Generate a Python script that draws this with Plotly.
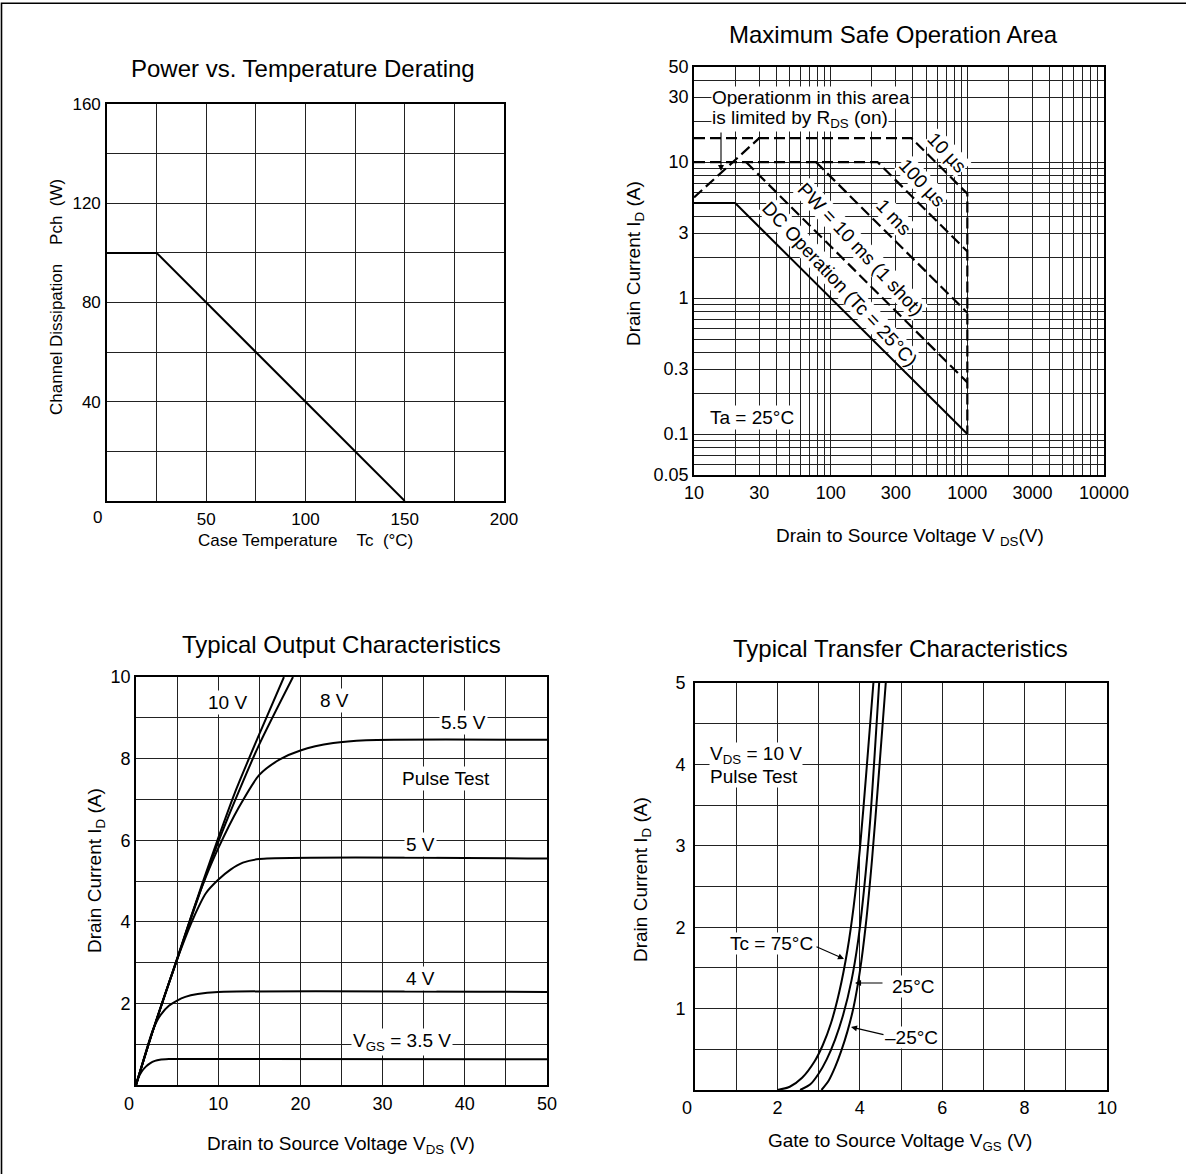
import plotly.graph_objects as go

W, H = 1186, 1174
FONT = "Arial, 'Liberation Sans', Helvetica, sans-serif"
GRID = "#222222"


def px(x):
    return x / W


def py(y):
    return 1 - y / H


# ---------------- Panel 1: Power vs. Temperature Derating ----------------
tc_deg = [0, 25, 150]
pch_w = [100, 100, 0]
p1_x_ticks = [0, 25, 50, 75, 100, 125, 150, 175, 200]
p1_x_labels = ["", "", "50", "", "100", "", "150", "", "200"]
p1_y_ticks = [0, 20, 40, 60, 80, 100, 120, 140, 160]
p1_y_labels = ["", "", "40", "", "80", "", "120", "", "160"]

# ---------------- Panel 2: Maximum Safe Operation Area ----------------
dc_vds = [10, 20, 1000]
dc_id = [5, 5, 0.1]
pw10ms_vds = [24, 1000]
pw10ms_id = [10, 0.24]
pw1ms_vds = [78, 1000]
pw1ms_id = [10, 0.78]
pw100us_vds = [10, 220, 1000]
pw100us_id = [10, 10, 2.2]
pw10us_vds = [10, 390, 1000, 1000]
pw10us_id = [15, 15, 5.85, 0.1]
rds_vds = [10, 30]
rds_id = [5.5, 15]
soa_x_labeled = [10, 30, 100, 300, 1000, 3000, 10000]
soa_y_labeled = [0.05, 0.1, 0.3, 1, 3, 10, 30, 50]
soa_y_label_text = ["0.05", "0.1", "0.3", "1", "3", "10", "30", "50"]

# ---------------- Panel 3: Typical Output Characteristics ----------------
out_v10_vds = [0, 2, 5, 8, 10, 12, 15, 18.0]
out_v10_id = [0, 1.3, 3.1, 4.9, 6.05, 7.15, 8.6, 10]
out_v8_vds = [0, 2, 5, 8, 10, 12, 15, 19.1]
out_v8_id = [0, 1.3, 3.08, 4.85, 5.95, 6.95, 8.35, 10]
out_v55_vds = [0, 2, 5, 7, 8.5, 10, 12.5, 15, 17.5, 20, 24, 28, 50]
out_v55_id = [0, 1.3, 3.08, 4.3, 5.1, 5.8, 6.8, 7.6, 7.98, 8.2, 8.38, 8.45, 8.46]
out_v5_vds = [0, 2, 4, 5.5, 7, 8.5, 10, 11.5, 13, 15, 50]
out_v5_id = [0, 1.3, 2.5, 3.35, 4.1, 4.7, 5.03, 5.28, 5.45, 5.54, 5.55]
out_v4_vds = [0, 1, 2, 2.5, 3, 4, 5, 6, 7.5, 10, 50]
out_v4_id = [0, 0.68, 1.32, 1.55, 1.72, 1.94, 2.07, 2.16, 2.23, 2.28, 2.28]
out_v35_vds = [0, 0.3, 0.7, 1.2, 1.7, 2.3, 2.9, 4, 5, 50]
out_v35_id = [0, 0.18, 0.33, 0.45, 0.53, 0.59, 0.62, 0.635, 0.64, 0.63]
p3_x_ticks = [0, 5, 10, 15, 20, 25, 30, 35, 40, 45, 50]
p3_x_labels = ["", "", "10", "", "20", "", "30", "", "40", "", "50"]
p3_y_ticks = [0, 1, 2, 3, 4, 5, 6, 7, 8, 9, 10]
p3_y_labels = ["", "", "2", "", "4", "", "6", "", "8", "", "10"]

# ---------------- Panel 4: Typical Transfer Characteristics ----------------
tr_75_vgs = [2.0, 2.3, 2.6, 2.9, 3.1, 3.3, 3.5, 3.7, 3.85, 4.0, 4.15, 4.33]
tr_75_id = [0, 0.04, 0.15, 0.35, 0.55, 0.82, 1.2, 1.72, 2.25, 2.95, 3.85, 5.0]
tr_25_vgs = [2.55, 2.8, 3.0, 3.2, 3.4, 3.6, 3.8, 3.95, 4.1, 4.25, 4.47]
tr_25_id = [0, 0.07, 0.2, 0.38, 0.62, 0.93, 1.35, 1.8, 2.45, 3.3, 5.0]
tr_m25_vgs = [3.07, 3.25, 3.4, 3.55, 3.7, 3.85, 4.0, 4.15, 4.3, 4.45, 4.63]
tr_m25_id = [0, 0.12, 0.28, 0.48, 0.72, 1.02, 1.45, 2.05, 2.85, 3.8, 5.0]
p4_x_ticks = [0, 1, 2, 3, 4, 5, 6, 7, 8, 9, 10]
p4_x_labels = ["", "", "2", "", "4", "", "6", "", "8", "", "10"]
p4_y_ticks = [0, 0.5, 1, 1.5, 2, 2.5, 3, 3.5, 4, 4.5, 5]
p4_y_labels = ["", "", "1", "", "2", "", "3", "", "4", "", "5"]

# log grid positions for the SOA chart
soa_x_ticks = [m * 10 ** e for e in (1, 2, 3) for m in range(1, 10)] + [10000]
soa_x_labels = [str(v) if v in soa_x_labeled else "" for v in soa_x_ticks]
soa_y_ticks = ([round(m * 0.01, 2) for m in range(5, 10)] + [round(m * 0.1, 1) for m in range(1, 10)]
               + list(range(1, 10)) + [10, 20, 30, 40, 50])
soa_y_labels = []
for v in soa_y_ticks:
    lab = ""
    for lv, lt in zip(soa_y_labeled, soa_y_label_text):
        if abs(v - lv) < 1e-9:
            lab = lt
    soa_y_labels.append(lab)


def axis(domain, tickvals, ticktext, anchor, tickfont=18, ticklen=5, **kw):
    d = dict(domain=domain, tickmode="array", tickvals=tickvals, ticktext=ticktext,
             anchor=anchor, showgrid=True, gridcolor=GRID, gridwidth=1,
             showline=True, mirror=True, linecolor="black", linewidth=1.6,
             zeroline=False, ticks="outside" if ticklen > 0 else "",
             tickcolor="rgba(0,0,0,0)", ticklen=max(ticklen, 0), automargin=False,
             tickfont=dict(size=tickfont, color="black", family=FONT), fixedrange=True)
    d.update(kw)
    return d


fig = go.Figure()

solid = dict(color="black", width=2)
dashed = dict(color="black", width=2.2, dash="11px,5px")

# Panel 1
fig.add_trace(go.Scatter(x=tc_deg, y=pch_w, mode="lines", line=solid, xaxis="x", yaxis="y"))

# Panel 2
fig.add_trace(go.Scatter(x=dc_vds, y=dc_id, mode="lines", line=solid, xaxis="x2", yaxis="y2"))
for xs, ys in [(pw10ms_vds, pw10ms_id), (pw1ms_vds, pw1ms_id), (pw100us_vds, pw100us_id),
               (pw10us_vds, pw10us_id), (rds_vds, rds_id)]:
    fig.add_trace(go.Scatter(x=xs, y=ys, mode="lines", line=dashed, xaxis="x2", yaxis="y2"))

# Panel 3
for xs, ys in [(out_v10_vds, out_v10_id), (out_v8_vds, out_v8_id), (out_v55_vds, out_v55_id),
               (out_v5_vds, out_v5_id), (out_v4_vds, out_v4_id), (out_v35_vds, out_v35_id)]:
    fig.add_trace(go.Scatter(x=xs, y=ys, mode="lines", xaxis="x3", yaxis="y3",
                             line=dict(color="black", width=2, shape="spline", smoothing=0.7)))

# Panel 4
for xs, ys in [(tr_75_vgs, tr_75_id), (tr_25_vgs, tr_25_id), (tr_m25_vgs, tr_m25_id)]:
    fig.add_trace(go.Scatter(x=xs, y=ys, mode="lines", xaxis="x4", yaxis="y4",
                             line=dict(color="black", width=2, shape="spline", smoothing=0.8)))

ann = []


def text(t, x, y, size=19, angle=0, bg=None, xanchor="center", align="center", pad=1):
    a = dict(text=t, x=px(x), y=py(y), xref="paper", yref="paper", showarrow=False,
             font=dict(size=size, color="black", family=FONT), textangle=angle,
             xanchor=xanchor, yanchor="middle", align=align, borderpad=pad)
    if bg:
        a["bgcolor"] = bg
    ann.append(a)


def arrow(tipx, tipy, tailx, taily):
    ann.append(dict(text="", x=px(tipx), y=py(tipy), xref="paper", yref="paper",
                    showarrow=True, ax=tailx - tipx, ay=taily - tipy, arrowhead=2,
                    arrowsize=1.1, arrowwidth=1.1, arrowcolor="black"))


# titles
text("Power vs. Temperature Derating", 303, 69, size=24)
text("Maximum Safe Operation Area", 893, 34, size=24)
text("Typical Output Characteristics", 341, 644, size=24)
text("Typical Transfer Characteristics", 900, 648, size=24)

NB = "\u00a0"
# axis titles
text(f"Channel Dissipation{NB*4}Pch{NB*2}(W)", 57, 297, size=17, angle=-90)
text(f"Case Temperature{NB*4}Tc{NB*2}(°C)", 305, 540, size=17)
text("Drain Current I<sub>D</sub> (A)", 635, 264, size=19, angle=-90)
text(f"Drain to Source Voltage V{NB}<sub>DS</sub>(V)", 910, 537, size=19)
text("Drain Current I<sub>D</sub> (A)", 96, 871, size=19, angle=-90)
text(f"Drain to Source Voltage V<sub>DS</sub>{NB}(V)", 341, 1145, size=19)
text("Drain Current I<sub>D</sub> (A)", 642, 880, size=19, angle=-90)
text(f"Gate to Source Voltage V<sub>GS</sub>{NB}(V)", 900, 1142, size=19)

# origin zeros
text("0", 97, 517, size=17)
text("0", 129, 1104, size=18)
text("0", 687, 1108, size=18)

# SOA labels
text("Operationm in this area", 711, 98, bg="white", xanchor="left", pad=0)
text(f"is limited by R<sub>DS</sub>{NB}(on)", 711, 119, bg="white", xanchor="left", pad=0)
arrow(721, 171, 721, 131)
text("10 µs", 947, 152, angle=47, bg="white", pad=0)
text("100 µs", 922, 182, angle=47, bg="white", pad=0)
text("1 ms", 893, 217, angle=47, bg="white", pad=0)
text("PW = 10 ms (1 shot)", 861, 249, angle=47, bg="white", pad=0)
text("DC Operation (Tc = 25°C)", 839, 284, angle=47, bg="white", pad=0)
text("Ta = 25°C", 752, 418, bg="white")

# Output labels
text("10 V", 228, 702, bg="white")
text("8 V", 334, 700, bg="white")
text("5.5 V", 463, 722, bg="white")
text("Pulse Test", 446, 778, bg="white")
text("5 V", 420, 844, bg="white")
text("4 V", 420, 978, bg="white")
text("V<sub>GS</sub> = 3.5 V", 402, 1042, bg="white")

# Transfer labels
text("V<sub>DS</sub> = 10 V", 709, 755, bg="white", xanchor="left", pad=0)
text("Pulse Test", 709, 776, bg="white", xanchor="left", pad=0)
text("Tc = 75°C", 771, 943, bg="white", pad=0)
arrow(844, 959, 815, 946)
text("25°C", 913, 986, bg="white", pad=0)
arrow(855, 983, 884, 983)
text("–25°C", 912, 1037, bg="white", pad=0)
arrow(851, 1027, 885, 1035)

shapes = [dict(type="rect", xref="paper", yref="paper", x0=px(1.5), x1=1.05, y0=-0.05, y1=py(3.3),
               line=dict(color="black", width=1.6), fillcolor="rgba(0,0,0,0)", layer="below")]

fig.update_layout(
    template="none",
    width=W, height=H, margin=dict(l=0, r=0, t=0, b=0, pad=0), autosize=False,
    paper_bgcolor="white", plot_bgcolor="white", showlegend=False,
    font=dict(family=FONT, color="black"),
    xaxis=axis([px(107), px(504)], p1_x_ticks, p1_x_labels, "y", tickfont=17, ticklen=2, range=[0, 200]),
    yaxis=axis([py(501), py(104)], p1_y_ticks, p1_y_labels, "x", tickfont=17, ticklen=1, range=[0, 160]),
    xaxis2=axis([px(694), px(1104)], soa_x_ticks, soa_x_labels, "y2", ticklen=1, type="log", range=[1, 4]),
    yaxis2=axis([py(475), py(67)], soa_y_ticks, soa_y_labels, "x2", ticklen=0, type="log",
                range=[-1.30103, 1.69897]),
    xaxis3=axis([px(136), px(547)], p3_x_ticks, p3_x_labels, "y3", ticklen=2, range=[0, 50]),
    yaxis3=axis([py(1085), py(677)], p3_y_ticks, p3_y_labels, "x3", ticklen=0, range=[0, 10]),
    xaxis4=axis([px(695), px(1107)], p4_x_ticks, p4_x_labels, "y4", ticklen=1, range=[0, 10]),
    yaxis4=axis([py(1090), py(683)], p4_y_ticks, p4_y_labels, "x4", ticklen=4, range=[0, 5]),
    annotations=ann, shapes=shapes,
)

fig.write_html("out.html", config={"displayModeBar": False},
               post_script="document.body.style.margin='0';document.body.style.overflow='hidden';")
